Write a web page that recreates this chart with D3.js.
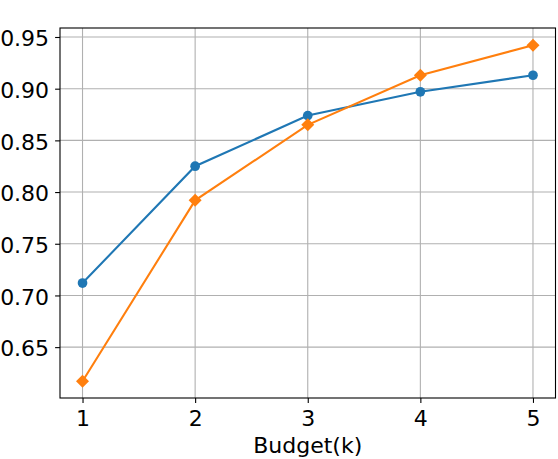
<!DOCTYPE html>
<html>
<head>
<meta charset="utf-8">
<script src="https://cdn.jsdelivr.net/npm/d3@7"></script>
<style>
  body { margin: 0; background: #fff; }
  text { font-family: "DejaVu Sans", sans-serif; }
</style>
</head>
<body>
<script>
'use strict';

// budget values on the x axis
const budgets = [1, 2, 3, 4, 5];
// blue series (circle markers)
const seriesBlue = [0.712, 0.825, 0.874, 0.897, 0.913];
// orange series (diamond markers)
const seriesOrange = [0.617, 0.792, 0.865, 0.913, 0.942];
// tick labels
const xTicks = [1, 2, 3, 4, 5];
const yTicks = [0.65, 0.70, 0.75, 0.80, 0.85, 0.90, 0.95];
const xLabel = 'Budget(k)';

(function() {
  const width = 558, height = 459;
  const left = 60, right = 555.5, top = 28, bottom = 398;
  const fontSize = '22px';

  let svg = d3.select('body').append('svg')
    .attr('width', width)
    .attr('height', height);

  // matplotlib-like 5% margins
  let xScale = d3.scaleLinear().domain([0.8, 5.2]).range([left, right]);
  let yScale = d3.scaleLinear().domain([0.6008, 0.9587]).range([bottom, top]);

  // grid lines
  svg.append('g').selectAll('line')
    .data(xTicks).enter().append('line')
      .attr('x1', (d) => xScale(d)).attr('x2', (d) => xScale(d))
      .attr('y1', top).attr('y2', bottom)
      .attr('stroke', '#b0b0b0').attr('stroke-width', 1.1);
  svg.append('g').selectAll('line')
    .data(yTicks).enter().append('line')
      .attr('x1', left).attr('x2', right)
      .attr('y1', (d) => yScale(d)).attr('y2', (d) => yScale(d))
      .attr('stroke', '#b0b0b0').attr('stroke-width', 1.1);

  // axes
  let xAxis = d3.axisBottom(xScale).tickValues(xTicks)
    .tickSize(4.9).tickPadding(4).tickFormat(d3.format('d'));
  let gx = svg.append('g')
    .attr('transform', `translate(0, ${bottom})`)
    .call(xAxis);
  gx.select('.domain').remove();
  gx.selectAll('.tick line').attr('stroke', '#000').attr('stroke-width', 1.1);
  gx.selectAll('.tick text')
    .attr('font-family', 'DejaVu Sans')
    .attr('font-size', fontSize)
    .attr('fill', '#000')
    .attr('dy', null)
    .attr('y', 28);

  let yAxis = d3.axisLeft(yScale).tickValues(yTicks)
    .tickSize(4.9).tickPadding(6).tickFormat(d3.format('.2f'));
  let gy = svg.append('g')
    .attr('transform', `translate(${left}, 0)`)
    .call(yAxis);
  gy.select('.domain').remove();
  gy.selectAll('.tick line').attr('stroke', '#000').attr('stroke-width', 1.1);
  gy.selectAll('.tick text')
    .attr('font-family', 'DejaVu Sans')
    .attr('font-size', fontSize)
    .attr('fill', '#000')
    .attr('dy', '0.4em');

  // lines and markers
  let line = d3.line()
    .x((d) => xScale(d[0]))
    .y((d) => yScale(d[1]));

  let blue = budgets.map((b, i) => [b, seriesBlue[i]]);
  let orange = budgets.map((b, i) => [b, seriesOrange[i]]);

  svg.append('path').datum(blue)
    .attr('d', line).attr('fill', 'none')
    .attr('stroke', '#1f77b4').attr('stroke-width', 2.08);
  svg.append('g').selectAll('circle')
    .data(blue).enter().append('circle')
      .attr('cx', (d) => xScale(d[0]))
      .attr('cy', (d) => yScale(d[1]))
      .attr('r', 4.85)
      .attr('fill', '#1f77b4');

  svg.append('path').datum(orange)
    .attr('d', line).attr('fill', 'none')
    .attr('stroke', '#ff7f0e').attr('stroke-width', 2.08);
  let diamond = 'M0,-6.5L6.5,0L0,6.5L-6.5,0Z';
  svg.append('g').selectAll('path')
    .data(orange).enter().append('path')
      .attr('d', diamond)
      .attr('transform', (d) => `translate(${xScale(d[0])}, ${yScale(d[1])})`)
      .attr('fill', '#ff7f0e');

  // frame
  svg.append('rect')
    .attr('x', left).attr('y', top)
    .attr('width', right - left).attr('height', bottom - top)
    .attr('fill', 'none').attr('stroke', '#000').attr('stroke-width', 1.1);

  // x label
  svg.append('text')
    .attr('x', (left + right) / 2)
    .attr('y', 453)
    .attr('text-anchor', 'middle')
    .style('font-size', fontSize)
    .text(xLabel);
})();
</script>
</body>
</html>
